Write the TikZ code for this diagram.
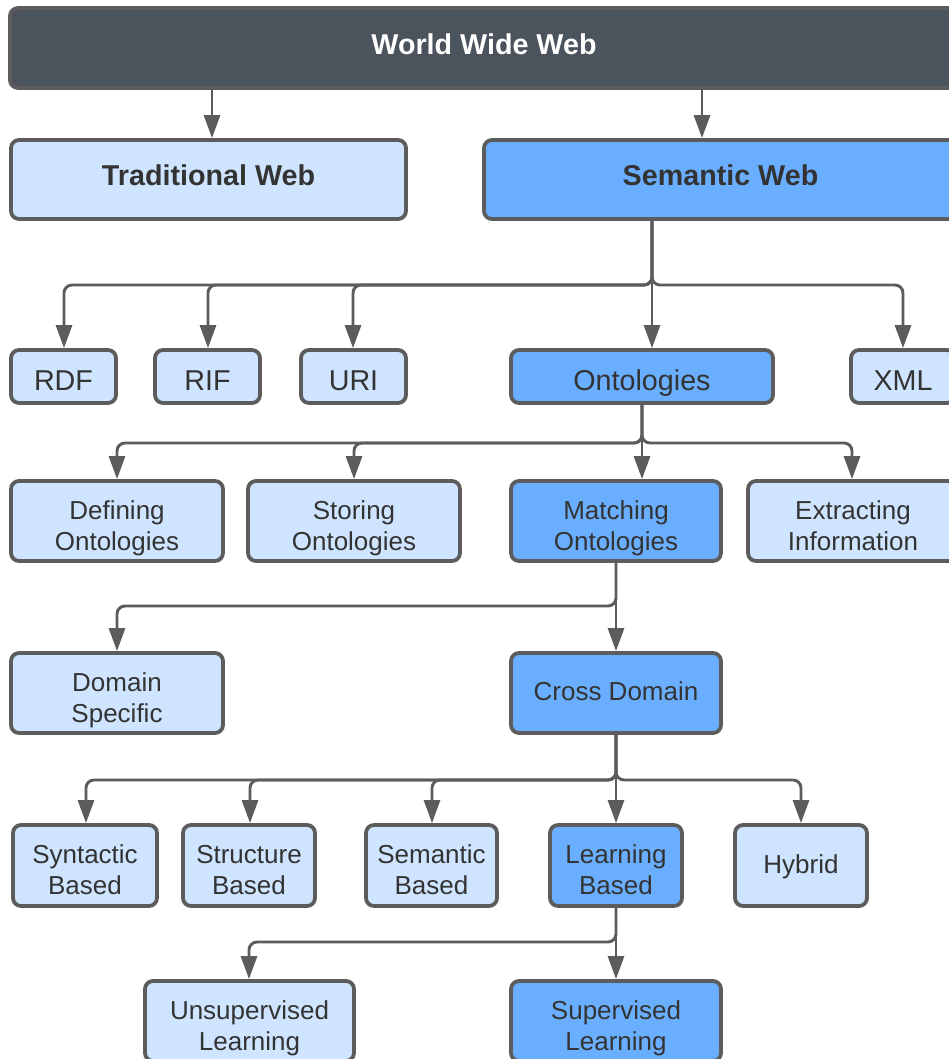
\documentclass[tikz,border=0pt]{standalone}
\usepackage{fontspec}
\setmainfont{Liberation Sans}
\usetikzlibrary{arrows.meta,calc}
\definecolor{darkbar}{HTML}{4B535C}
\definecolor{lightfill}{HTML}{CFE4FF}
\definecolor{midfill}{HTML}{6AAFFF}
\definecolor{edgegray}{HTML}{5C5C5C}
\definecolor{txtgray}{HTML}{333333}
\tikzset{
  boxbase/.style={draw=edgegray, line width=3.8pt, rounded corners=8pt, inner sep=0pt},
  lbox/.style={boxbase, fill=lightfill},
  mbox/.style={boxbase, fill=midfill},
  topbox/.style={boxbase, fill=darkbar},
  txt/.style={inner sep=0pt, anchor=base, text=txtgray},
  bigtxt/.style={txt, font=\fontsize{28.7}{34}\selectfont},
  boldtxt/.style={txt, font=\fontsize{28.7}{34}\selectfont\bfseries},
  twotxt/.style={txt, font=\fontsize{26}{31}\selectfont},
  conn/.style={draw=edgegray, line width=2.9pt, rounded corners=8pt, -{Triangle[length=23pt,width=16pt]}},
}
\newcommand{\mytwolines}[3]{%
  \node[twotxt] (#1-a) at ([yshift=2pt]#1.center) {#2};
  \node[twotxt] (#1-b) at ([yshift=-29pt]#1.center) {#3};}
\newcommand{\myoneline}[2]{%
  \node[twotxt] (#1-a) at ([yshift=-7.5pt]#1.center) {#2};}
\newcommand{\mybigline}[2]{%
  \node[bigtxt] (#1-a) at ([yshift=-13.5pt]#1.center) {#2};}
\newcommand{\myboldline}[2]{%
  \node[boldtxt] (#1-a) at ([yshift=-6.5pt]#1.center) {#2};}
\begin{document}
\begin{tikzpicture}[x=1pt,y=-1pt]
\useasboundingbox (0,0) rectangle (949,1059);
\clip (0,0) rectangle (949,1059);
% top levels
\node[topbox, minimum width=948pt, minimum height=80pt] (www) at (484,48) {};
\node[boldtxt, text=white] (www-a) at ([yshift=-6.5pt]www.center) {World Wide Web};
\node[lbox, minimum width=395pt, minimum height=79pt] (trad) at (208.5,179.5) {};
\myboldline{trad}{Traditional Web}
\node[mbox, minimum width=473pt, minimum height=79pt] (sem) at (720.5,179.5) {};
\myboldline{sem}{Semantic Web}
% level 3
\node[lbox, minimum width=105pt, minimum height=53pt] (rdf) at (63.5,376.5) {};
\mybigline{rdf}{RDF}
\node[lbox, minimum width=105pt, minimum height=53pt] (rif) at (207.5,376.5) {};
\mybigline{rif}{RIF}
\node[lbox, minimum width=105pt, minimum height=53pt] (uri) at (353.5,376.5) {};
\mybigline{uri}{URI}
\node[mbox, minimum width=262pt, minimum height=53pt] (onto) at (642,376.5) {};
\mybigline{onto}{Ontologies}
\node[lbox, minimum width=104pt, minimum height=53pt] (xml) at (903,376.5) {};
\mybigline{xml}{XML}
% level 4
\node[lbox, minimum width=212pt, minimum height=80pt] (def) at (117,521) {};
\mytwolines{def}{Defining}{Ontologies}
\node[lbox, minimum width=212pt, minimum height=80pt] (sto) at (354,521) {};
\mytwolines{sto}{Storing}{Ontologies}
\node[mbox, minimum width=210pt, minimum height=80pt] (mat) at (616,521) {};
\mytwolines{mat}{Matching}{Ontologies}
\node[lbox, minimum width=210pt, minimum height=80pt] (ext) at (853,521) {};
\mytwolines{ext}{Extracting}{Information}
% level 5
\node[lbox, minimum width=212pt, minimum height=80pt] (dom) at (117,693) {};
\mytwolines{dom}{Domain}{Specific}
\node[mbox, minimum width=210pt, minimum height=80pt] (cro) at (616,693) {};
\myoneline{cro}{Cross Domain}
% level 6
\node[lbox, minimum width=144pt, minimum height=81pt] (syn) at (85,865.5) {};
\mytwolines{syn}{Syntactic}{Based}
\node[lbox, minimum width=132pt, minimum height=81pt] (str) at (249,865.5) {};
\mytwolines{str}{Structure}{Based}
\node[lbox, minimum width=131pt, minimum height=81pt] (smb) at (431.5,865.5) {};
\mytwolines{smb}{Semantic}{Based}
\node[mbox, minimum width=132pt, minimum height=81pt] (lrn) at (616,865.5) {};
\mytwolines{lrn}{Learning}{Based}
\node[lbox, minimum width=132pt, minimum height=81pt] (hyb) at (801,865.5) {};
\myoneline{hyb}{Hybrid}
% level 7
\node[lbox, minimum width=209pt, minimum height=80pt] (uns) at (249.5,1021) {};
\mytwolines{uns}{Unsupervised}{Learning}
\node[mbox, minimum width=210pt, minimum height=80pt] (sup) at (616,1021) {};
\mytwolines{sup}{Supervised}{Learning}
% bus coordinates
\coordinate (w1) at (212,0);
\coordinate (w2) at (702,0);
\coordinate (b1) at (652,285);
\coordinate (b2) at (642,443);
\coordinate (b3) at (616,606);
\coordinate (b4) at (616,780);
\coordinate (b5) at (616,942);
% connectors
\draw[conn] (www.south -| w1) -- (trad.north -| w1);
\draw[conn] (www.south -| w2) -- (sem.north -| w2);
\draw[conn] (sem.south -| b1) -- (b1) -| ($(rdf.north)+(0.5,0)$);
\draw[conn] (sem.south -| b1) -- (b1) -| ($(rif.north)+(0.5,0)$);
\draw[conn] (sem.south -| b1) -- (b1) -| ($(uri.north)+(-0.5,0)$);
\draw[conn] (sem.south -| b1) -- (onto.north -| b1);
\draw[conn] (sem.south -| b1) -- (b1) -| (xml.north);
\draw[conn] (onto.south -| b2) -- (b2) -| (def.north);
\draw[conn] (onto.south -| b2) -- (b2) -| (sto.north);
\draw[conn] (onto.south -| b2) -- (mat.north -| b2);
\draw[conn] (onto.south -| b2) -- (b2) -| ($(ext.north)+(-1,0)$);
\draw[conn] (mat.south -| b3) -- (b3) -| (dom.north);
\draw[conn] (mat.south -| b3) -- (cro.north);
\draw[conn] (cro.south -| b4) -- (b4) -| ($(syn.north)+(1,0)$);
\draw[conn] (cro.south -| b4) -- (b4) -| ($(str.north)+(1,0)$);
\draw[conn] (cro.south -| b4) -- (b4) -| ($(smb.north)+(0.5,0)$);
\draw[conn] (cro.south -| b4) -- (lrn.north);
\draw[conn] (cro.south -| b4) -- (b4) -| (hyb.north);
\draw[conn] (lrn.south -| b5) -- (b5) -| ($(uns.north)+(-0.5,0)$);
\draw[conn] (lrn.south -| b5) -- (sup.north);
\end{tikzpicture}
\end{document}
